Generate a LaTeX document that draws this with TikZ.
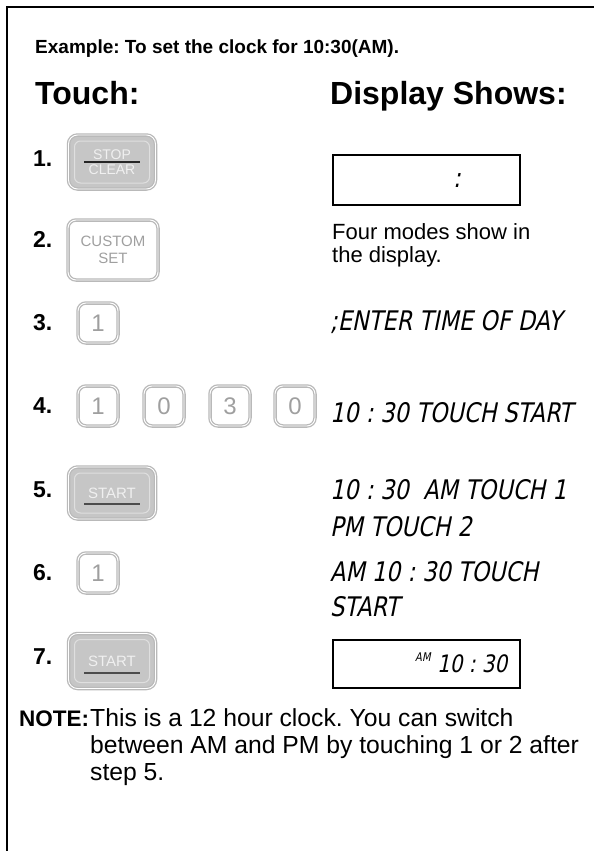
\documentclass[tikz,border=0pt]{standalone}
\usepackage{fontspec}
\setmainfont{Liberation Sans}
\newfontfamily\lcdfont{DejaVu Sans}[FakeSlant=0.2,FakeStretch=0.83]
\usetikzlibrary{positioning}
\frenchspacing

\tikzset{
  txt/.style={anchor=base west, inner sep=0pt},
  numkey/.style={draw=gray!55, line width=1.3pt, double=white, double distance=0.9pt,
    rounded corners=8pt, minimum width=40pt, minimum height=40pt, inner sep=0pt,
    text=gray!75, font=\fontsize{24}{24}\selectfont},
  panelkey/.style={draw=gray!55, line width=1.3pt, double=white, double distance=0.9pt,
    rounded corners=9pt, fill=gray!45, minimum width=87pt, minimum height=52pt},
  panelface/.style={draw=gray!25, line width=1pt, rounded corners=6pt, fill=gray!45,
    minimum width=75pt, minimum height=40pt},
  keylabel/.style={text=gray!12, inner sep=0pt, font=\fontsize{14}{14}\selectfont},
  stepnum/.style={anchor=base west, inner sep=0pt, font=\bfseries\fontsize{23}{23}\selectfont},
  lcd/.style={anchor=west, inner sep=0pt, font=\lcdfont\fontsize{27}{27}\selectfont},
  display/.style={draw=black, line width=2pt, minimum width=187pt, minimum height=50pt},
  plain/.style={anchor=north west, inner sep=0pt, align=left, font=\fontsize{22}{23}\selectfont},
  notetxt/.style={anchor=base west, inner sep=0pt, font=\fontsize{24.7}{24.7}\selectfont}
}

\begin{document}
\begin{tikzpicture}[x=1pt, y=-1pt]
    \useasboundingbox (0,0) rectangle (594,851);
    % frame
    \draw[line width=2.8pt] (594,7) -- (7,7) -- (7,851);
    % headings
    \node[txt, font=\bfseries\fontsize{19}{19}\selectfont] (title) at (35,53) {Example: To set the clock for 10:30(AM).};
    \node[txt, font=\bfseries\fontsize{32}{32}\selectfont] (touch) at (35,104) {Touch:};
    \node[txt, font=\bfseries\fontsize{32}{32}\selectfont] (shows) at (330,104) {Display Shows:};

    % step 1
    \node[stepnum] (n1) at (33,166) {1.};
    \node[panelkey, minimum height=54pt] (key1) at (112,162) {};
    \node[panelface, minimum height=42pt] (face1) at (key1) {};
    \node[keylabel, above=2pt of face1.center] (stop) {STOP};
    \node[keylabel, below=3pt of face1.center] (clear) {CLEAR};
    \draw[gray!30!black, line width=2pt] ([xshift=-28pt]face1.center) -- ([xshift=28pt]face1.center);
    \node[display] (disp1) at (426.5,180) {};
    \node[lcd, anchor=center] (colon1) at (457,181) {:};

    % step 2
    \node[stepnum] (n2) at (33,247) {2.};
    \node[numkey, minimum width=90pt, minimum height=60pt, align=center,
      font=\fontsize{15}{17}\selectfont] (key2) at (113,250) {CUSTOM\\SET};
    \node[plain] (modes) at (332,223) {Four modes show in\\the display.};

    % step 3
    \node[stepnum] (n3) at (33,330) {3.};
    \node[numkey] (key3) at (98,323) {1};
    \node[lcd] (enter) at (330,322) {;ENTER TIME OF DAY};

    % step 4
    \node[stepnum] (n4) at (33,413) {4.};
    \foreach \d/\x [count=\i] in {1/98,0/164,3/230,0/295}
      \node[numkey] (key4\i) at (\x,406) {\d};
    \node[lcd] (touchstart) at (330,413) {10 : 30 TOUCH START};

    % step 5
    \node[stepnum] (n5) at (33,497) {5.};
    \node[panelkey] (key5) at (112,493) {};
    \node[panelface] (face5) at (key5) {};
    \node[keylabel, font=\fontsize{15}{15}\selectfont] (start5) at (face5) {START};
    \draw[gray!60!black, line width=1.5pt] ([xshift=-28pt,yshift=-11pt]face5.center) -- ([xshift=28pt,yshift=-11pt]face5.center);
    \node[lcd] (ampm1) at (330,490) {10 : 30\ \ AM TOUCH 1};
    \node[lcd] (ampm2) at (330,527) {PM TOUCH 2};

    % step 6
    \node[stepnum] (n6) at (33,580) {6.};
    \node[numkey] (key6) at (98,573) {1};
    \node[lcd] (am1) at (330,572) {AM 10 : 30 TOUCH};
    \node[lcd] (am2) at (330,607) {START};

    % step 7
    \node[stepnum] (n7) at (33,664) {7.};
    \node[panelkey, minimum height=55pt] (key7) at (112,661) {};
    \node[panelface, minimum height=43pt] (face7) at (key7) {};
    \node[keylabel, font=\fontsize{15}{15}\selectfont] (start7) at (face7) {START};
    \draw[gray!60!black, line width=1.5pt] ([xshift=-28pt,yshift=-12pt]face7.center) -- ([xshift=28pt,yshift=-12pt]face7.center);
    \node[display, minimum height=48pt] (disp2) at (426.5,664) {};
    \node[lcd, font=\lcdfont\fontsize{12}{12}\selectfont] (am) at (415,657) {AM};
    \node[lcd, font=\lcdfont\fontsize{24}{24}\selectfont] (time) at (437,664) {10 : 30};

    % note
    \node[txt, font=\bfseries\fontsize{22.5}{22.5}\selectfont] (note) at (19,726) {NOTE:};
    \node[notetxt] (line1) at (90,726) {This is a 12 hour clock. You can switch};
    \node[notetxt] (line2) at (90,753) {between AM and PM by touching 1 or 2 after};
    \node[notetxt] (line3) at (90,780) {step 5.};
\end{tikzpicture}
\end{document}
